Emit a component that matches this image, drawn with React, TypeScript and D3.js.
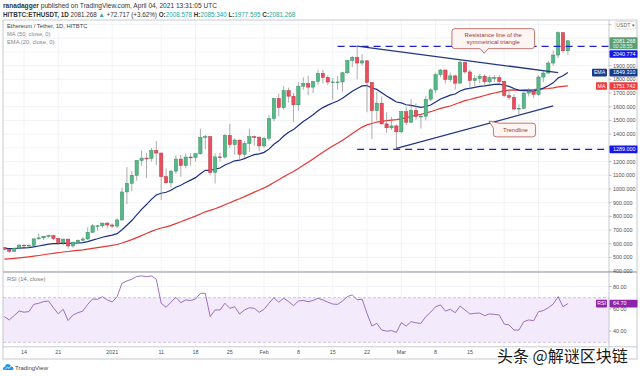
import React from 'react';
import * as d3 from 'd3';

const startDay = '2020-12-10';
const openP = [573,560,545,568,590,586,589,636,643,655, 659,638,609,634,584,612,626,635,684,731, 731,751,737,729,774,978,1041,1100,1208,1225, 1224,1281,1262,1090,1045,1130,1218,1171,1233,1230, 1257,1377,1382,1120,1234,1233,1391,1324,1357,1253, 1332,1382,1378,1314,1370,1514,1660,1594,1718,1677, 1614,1750,1770,1743,1785,1843,1814,1780,1781,1781, 1848,1937,1960,1919,1935,1777,1571,1626,1475,1446, 1460,1417,1564,1487,1573,1529,1531,1655,1723,1834, 1868,1799,1825,1772,1924,1854,1791,1806,1823,1782, 1812,1812,1785,1681,1669,1583,1589,1700,1713,1690, 1817,1846,1919,1977,2140,2008.578];
const highP = [576,561,570,597,592,595,637,676,657,667, 666,645,638,637,614,630,648,720,745,738, 754,757,749,786,1010,1160,1130,1210,1280,1260, 1300,1350,1265,1150,1140,1245,1250,1260,1260,1260, 1440,1395,1385,1260,1265,1400,1475,1370,1358,1350, 1440,1390,1383,1380,1540,1665,1695,1750,1740,1700, 1780,1815,1828,1790,1870,1870,1830,1810,1825,1855, 1940,1970,2042,1985,1940,1780,1710,1675,1560,1525, 1470,1570,1600,1655,1625,1545,1680,1735,1845,1875, 1870,1850,1835,1940,1930,1870,1830,1840,1835,1830, 1830,1830,1790,1725,1690,1620,1705,1735,1720,1830, 1860,1935,2010,2150,2145,2085.34];
const lowP = [555,532,543,565,577,580,584,630,628,645, 625,592,588,564,570,604,618,628,682,695, 715,712,716,715,768,890,985,1060,1170,1080, 1200,1175,920,1040,1010,1110,1090,1150,1170,1200, 1250,1290,1100,1040,1200,1220,1300,1250,1215,1225, 1270,1315,1275,1300,1350,1495,1530,1578,1630,1490, 1570,1725,1685,1700,1760,1770,1760,1650,1725,1710, 1840,1890,1800,1900,1560,1365,1500,1470,1410,1430, 1290,1405,1465,1480,1505,1440,1500,1640,1700,1815, 1770,1780,1725,1770,1840,1730,1740,1770,1760,1770, 1780,1760,1670,1650,1575,1545,1580,1675,1665,1680, 1780,1840,1900,1955,1995,1977.595];
const closeP = [560,545,568,590,586,589,636,643,655,659, 638,609,634,584,612,626,635,684,731,731, 751,737,729,774,978,1041,1100,1208,1225,1224, 1281,1262,1090,1045,1130,1218,1171,1233,1230,1257, 1377,1382,1120,1234,1233,1391,1324,1357,1253,1332, 1382,1378,1314,1370,1514,1660,1594,1718,1677,1614, 1750,1770,1743,1785,1843,1814,1780,1781,1781,1848, 1937,1960,1919,1935,1777,1571,1626,1475,1446,1460, 1417,1564,1487,1573,1529,1531,1655,1723,1834,1868, 1799,1825,1772,1924,1854,1791,1806,1823,1782,1812, 1812,1785,1681,1669,1583,1589,1700,1713,1690,1817, 1846,1919,1977,2140,2008.578,2081.268];
const ema20 = [567.2,565.1,565.4,567.7,569.4,571.3,577.5,583.7,590.5,597.0, 600.9,601.7,604.8,602.8,603.7,605.8,608.6,615.8,626.8,636.7, 647.6,656.1,663.0,673.6,702.6,734.8,769.6,811.4,850.8,886.3, 923.8,956.0,968.7,976.0,990.7,1012.3,1027.4,1047.0,1064.4,1082.7, 1110.7,1136.5,1134.9,1144.3,1152.7,1175.4,1189.5,1205.4,1209.9,1221.5, 1236.8,1250.2,1256.3,1267.1,1290.6,1325.8,1351.3,1386.2,1413.9,1433.0, 1463.2,1492.4,1516.3,1541.9,1570.6,1593.8,1611.5,1627.7,1642.3,1661.4, 1687.6,1713.5,1733.1,1752.3,1754.6,1737.1,1726.5,1702.6,1678.2,1657.4, 1634.5,1627.8,1614.4,1610.4,1602.7,1595.9,1601.5,1613.1,1634.1,1656.3, 1669.9,1684.7,1693.0,1715.0,1728.2,1734.2,1741.0,1748.8,1752.0,1757.7, 1762.9,1765.0,1757.0,1748.6,1732.8,1719.1,1717.3,1716.9,1714.3,1724.1, 1735.7,1753.1,1774.4,1809.2,1826.0,1849.31];
const ma50 = [487.9,490.5,493.7,497.3,500.9,504.8,509.4,514.5,519.9,525.4, 530.5,534.7,539.8,543.7,547.9,552.1,555.7,560.7,566.3,572.0, 578.0,583.5,588.9,594.9,605.5,617.3,630.1,644.7,659.6,674.7, 690.1,704.4,715.0,723.7,734.2,747.2,760.3,774.6,788.4,802.1, 817.3,833.2,843.6,856.0,869.2,885.1,899.6,914.9,928.9,944.1, 960.4,977.1,992.0,1007.6,1026.2,1047.6,1066.8,1088.3,1108.7,1127.8, 1150.1,1173.3,1195.5,1219.5,1244.1,1267.9,1290.8,1312.7,1333.7,1356.1, 1379.8,1404.3,1428.1,1451.3,1467.3,1477.9,1488.4,1493.7,1498.2,1502.9, 1505.6,1511.6,1519.6,1530.1,1538.1,1544.4,1554.0,1563.8,1575.9,1588.1, 1596.6,1605.4,1618.5,1632.3,1644.7,1652.7,1662.3,1671.6,1682.2,1691.8, 1700.4,1708.6,1715.9,1721.9,1723.3,1721.9,1724.0,1723.9,1724.2,1728.2, 1730.2,1733.1,1737.8,1744.9,1748.2,1751.742];
const rsi14 = [53,50,54,58,57,57.5,64,65,66.5,67, 61,55.5,59.6,49.5,54.5,56.5,58,64,68.8,68.5, 70.9,68,66.1,70.9,82.9,85,86.5,89,89.5,88.8, 89.5,86.5,65,61.4,66,70.3,65.5,68,67.5,68.8, 73.9,73.9,53,59,59,65,60.5,61.9,55.4,59, 61,60.5,56.9,59.6,65,70,65.9,69.5,66.5,62.8, 67,67.5,66.4,67.5,69.5,68,66,64.3,64,67, 71,72.4,68.2,68.6,56,44.6,47,41,40,40.5, 38.9,47.6,44.6,48.5,47.5,47,53,57,61.9,63.5, 58,59.6,56.5,62.5,59,55.4,56,56.2,53.9,55.4, 55,54.5,46.4,45.5,41,41,48.5,50,49.4,57.4, 58.5,61,64.3,70.9,61.9,64.7];

const priceTicks = [400,500,600,700,800,900,1000,1100,1200,1300,1400,1500,1600,1700,1800,1900,2000,2100,2200];
const priceLabelTicks = [400,500,600,700,800,900,1000,1100,1200,1300,1400,1500,1600,1700,1800,1900];
const rsiTicks = [40,60,80];
const gridDates = ['2020-12-14','2020-12-21','2021-01-01','2021-01-11','2021-01-18','2021-01-25','2021-02-01','2021-02-08','2021-02-15','2021-02-22','2021-03-01','2021-03-08','2021-03-15','2021-03-22','2021-03-29'];
const timeTickDates = ['2020-12-14','2020-12-21','2021-01-01','2021-01-11','2021-01-18','2021-01-25','2021-02-01','2021-02-08','2021-02-15','2021-02-22','2021-03-01','2021-03-08','2021-03-15'];
const timeTickLabels = ['14','21','2021','11','18','25','Feb','8','15','22','Mar','8','15'];

const resistanceLine = [{ d: '2021-02-20', v: 2042 }, { d: '2021-04-02', v: 1849 }];
const supportLine = [{ d: '2021-02-28', v: 1297 }, { d: '2021-04-01', v: 1606 }];
const hLevels = [{ d: '2021-02-16', v: 2040.774 }, { d: '2021-02-20', v: 1289 }];

const FONT = '"Liberation Sans", Arial, sans-serif';
const DAY = 864e5;
const parse = (s: string) => new Date(s + 'T00:00:00Z');

export default function App() {
  const W = 640, H = 376;
  const left = 3, right = 609, mainTop = 20, mainBot = 272, rsiBot = 346.8;
  const ref = parse('2020-12-14').getTime();
  const x = d3.scaleUtc()
    .domain([new Date(ref - 4.286 * DAY), new Date(ref + 119.39 * DAY)])
    .range([left, right]);
  const y = d3.scaleLinear().domain([394, 2233]).range([mainBot, mainTop]);
  const yr = d3.scaleLinear().domain([26, 93]).range([rsiBot, mainBot]);

  const start = parse(startDay);
  const days = d3.utcDay.range(start, d3.utcDay.offset(start, closeP.length));
  const bw = 3.3;
  const upFill = '#53b987', dnFill = '#eb4d5c';
  const upStroke = '#3d8c63', dnStroke = '#b73a46';

  const lineMain = d3.line<number>().x((_, i) => x(days[i])).y((v) => y(v));
  const lineRsi = d3.line<number>().x((_, i) => x(days[i])).y((v) => yr(v));

  const fmt3 = d3.format('.3f');
  const fmt2 = d3.format('.2f');

  const gridC = '#eef0f4';
  const frameC = '#b9bcc4';
  const axisText = '#4f4f4f';

  const priceBox = (cy: number, fill: string, label: string, tag?: string, tagW?: number) => (
    <g key={label + cy}>
      {tag && (
        <g>
          <rect x={right - 2 - (tagW || 12)} y={cy - 3.8} width={tagW || 12} height={7.6} fill={fill} rx={0.8} />
          <text x={right - 2 - (tagW || 12) / 2} y={cy + 1.9} fontSize={5.2} fill="#fff" textAnchor="middle" fontFamily={FONT}>{tag}</text>
        </g>
      )}
      <rect x={right + 0.5} y={cy - 3.8} width={28} height={7.6} fill={fill} rx={0.8} />
      <text x={right + 4} y={cy + 1.9} fontSize={5.4} fill="#fff" fontFamily={FONT}>{label}</text>
    </g>
  );

  const resPts = resistanceLine.map((p) => [x(parse(p.d)), y(p.v)]);
  const supPts = supportLine.map((p) => [x(parse(p.d)), y(p.v)]);

  const box1 = { x0: x(parse('2021-03-15')) - 18, x1: x(parse('2021-03-28')) + 1, y0: y(2250) + 11, y1: y(2250) + 31 };
  const tip1 = { x: x(parse('2021-03-22')) - 20, y: y(1990) };
  const box2 = { x0: x(parse('2021-03-20')) - 1, x1: x(parse('2021-03-28')) + 2, y0: y(1480), y1: y(1380) };
  const tip2 = { x: x(parse('2021-03-19')) - 0.5, y: y(1496) };

  const callout1 = () => {
    const { x0, x1, y0, y1 } = box1;
    const r = 3;
    const bx = tip1.x;
    return `M${x0 + r},${y0} H${x1 - r} Q${x1},${y0} ${x1},${y0 + r} V${y1 - r} Q${x1},${y1} ${x1 - r},${y1} H${bx + 4} L${bx},${tip1.y} L${bx - 4},${y1} H${x0 + r} Q${x0},${y1} ${x0},${y1 - r} V${y0 + r} Q${x0},${y0} ${x0 + r},${y0} Z`;
  };
  const callout2 = () => {
    const { x0, x1, y0, y1 } = box2;
    const r = 3;
    return `M${x0 + 6},${y0} H${x1 - r} Q${x1},${y0} ${x1},${y0 + r} V${y1 - r} Q${x1},${y1} ${x1 - r},${y1} H${x0 + r} Q${x0},${y1} ${x0},${y1 - r} V${y0 + 5} L${tip2.x},${tip2.y} L${x0 + 6},${y0} Z`;
  };

  return (
    <svg width={W} height={H} style={{ position: 'absolute', left: 0, top: 0, background: '#fff' }} fontFamily={FONT}>
      <defs>
        <clipPath id="mainClip"><rect x={left} y={mainTop} width={right - left} height={mainBot - mainTop} /></clipPath>
        <clipPath id="rsiClip"><rect x={left} y={mainBot} width={right - left} height={rsiBot - mainBot} /></clipPath>
      </defs>
      <rect width={W} height={H} fill="#fff" />

      {/* header */}
      <text x={3} y={8} fontSize={6.6} fill="#333">
        <tspan fontWeight="bold">ranadagger</tspan> published on TradingView.com, April 04, 2021 13:31:05 UTC
      </text>
      <text x={3} y={16.5} fontSize={6.3} fill="#333">
        <tspan fontWeight="bold">HITBTC:ETHUSDT, 1D</tspan>
        <tspan> 2081.268 </tspan>
        <tspan fill="#26a69a">▲</tspan>
        <tspan> +72.717 (+3.62%) </tspan>
        <tspan fontWeight="bold">O:</tspan><tspan fill="#26a69a">2008.578 </tspan>
        <tspan fontWeight="bold">H:</tspan><tspan fill="#26a69a">2085.340 </tspan>
        <tspan fontWeight="bold">L:</tspan><tspan fill="#26a69a">1977.595 </tspan>
        <tspan fontWeight="bold">C:</tspan><tspan fill="#26a69a">2081.268</tspan>
      </text>

      {/* grid */}
      <g stroke={gridC} strokeWidth={0.8}>
        {gridDates.map((d) => (
          <line key={d} x1={x(parse(d))} x2={x(parse(d))} y1={mainTop} y2={rsiBot} />
        ))}
        {priceTicks.map((t) => (
          <line key={t} x1={left} x2={right} y1={y(t)} y2={y(t)} />
        ))}
        {rsiTicks.map((t) => (
          <line key={'r' + t} x1={left} x2={right} y1={yr(t)} y2={yr(t)} />
        ))}
      </g>

      {/* legend */}
      <text x={7} y={28} fontSize={5.8} fill="#444">Ethereum / Tether, 1D, HITBTC</text>
      <text x={7} y={36} fontSize={5.8} fill="#888">MA (50, close, 0)</text>
      <text x={7} y={44} fontSize={5.8} fill="#888">EMA (20, close, 0)</text>

      {/* main pane */}
      <g clipPath="url(#mainClip)">
        <path d={lineMain(ma50) || ''} fill="none" stroke="#e53935" strokeWidth={1.2} />
        <path d={lineMain(ema20) || ''} fill="none" stroke="#1a2f85" strokeWidth={1.2} />
        {days.map((d, i) => {
          const up = closeP[i] >= openP[i];
          const cx = x(d);
          const top = y(Math.max(openP[i], closeP[i]));
          const bot = y(Math.min(openP[i], closeP[i]));
          return (
            <g key={i}>
              <line x1={cx} x2={cx} y1={y(highP[i])} y2={y(lowP[i])} stroke="#8a8a8a" strokeWidth={0.7} />
              <rect x={cx - bw / 2} y={top} width={bw} height={Math.max(0.8, bot - top)}
                fill={up ? upFill : dnFill} stroke={up ? upStroke : dnStroke} strokeWidth={0.5} />
            </g>
          );
        })}
        {hLevels.map((h) => (
          <line key={h.v} x1={x(parse(h.d))} x2={right} y1={y(h.v)} y2={y(h.v)} stroke="#1f1fd6" strokeWidth={1.4} strokeDasharray="7,5" />
        ))}
        <line x1={resPts[0][0]} y1={resPts[0][1]} x2={resPts[1][0]} y2={resPts[1][1]} stroke="#22377f" strokeWidth={1.3} />
        <line x1={supPts[0][0]} y1={supPts[0][1]} x2={supPts[1][0]} y2={supPts[1][1]} stroke="#22377f" strokeWidth={1.3} />

        <path d={callout1()} fill="#fdf5f4" stroke="#b3544d" strokeWidth={0.8} />
        <text x={(box1.x0 + box1.x1) / 2} y={box1.y0 + 8} fontSize={6} fill="#9e3b35" textAnchor="middle">Resistance line of the</text>
        <text x={(box1.x0 + box1.x1) / 2} y={box1.y0 + 15.5} fontSize={6} fill="#9e3b35" textAnchor="middle">symmetrical triangle</text>
        <path d={callout2()} fill="#fdf5f4" stroke="#b3544d" strokeWidth={0.8} />
        <text x={(box2.x0 + box2.x1) / 2 + 1} y={(box2.y0 + box2.y1) / 2 + 2.1} fontSize={6} fill="#9e3b35" textAnchor="middle">Trendline</text>
      </g>

      {/* rsi pane */}
      <rect x={left} y={yr(70)} width={right - left} height={yr(30) - yr(70)} fill="#f3eafc" />
      <line x1={left} x2={right} y1={yr(70)} y2={yr(70)} stroke="#c9b3e3" strokeWidth={0.8} strokeDasharray="3,2" />
      <line x1={left} x2={right} y1={yr(30)} y2={yr(30)} stroke="#c9b3e3" strokeWidth={0.8} strokeDasharray="3,2" />
      <g clipPath="url(#rsiClip)">
        <path d={lineRsi(rsi14) || ''} fill="none" stroke="#9262b8" strokeWidth={0.9} />
      </g>
      <text x={7} y={281} fontSize={5.8} fill="#777">RSI (14, close)</text>

      {/* frames */}
      <rect x={left} y={mainTop} width={634} height={359 - mainTop} fill="none" stroke={frameC} strokeWidth={0.8} />
      <line x1={right} x2={right} y1={mainTop} y2={359} stroke={frameC} strokeWidth={0.8} />
      <line x1={left} x2={637} y1={mainBot} y2={mainBot} stroke="#b0b3ba" strokeWidth={1.6} />
      <line x1={left} x2={637} y1={rsiBot} y2={rsiBot} stroke={frameC} strokeWidth={0.8} />

      {/* price axis */}
      <g>
        {priceTicks.map((t) => (
          <line key={t} x1={right} x2={right + 2.5} y1={y(t)} y2={y(t)} stroke="#999" strokeWidth={0.6} />
        ))}
        {priceLabelTicks.map((t) => (
          <text key={'pl' + t} x={right + 4} y={y(t) + 2} fontSize={5.4} fill={axisText}>{fmt3(t)}</text>
        ))}
        {rsiTicks.map((t) => (
          <g key={'rt' + t}>
            <line x1={right} x2={right + 2.5} y1={yr(t)} y2={yr(t)} stroke="#999" strokeWidth={0.6} />
            <text x={right + 4} y={yr(t) + 2} fontSize={5.4} fill={axisText}>{fmt2(t)}</text>
          </g>
        ))}
      </g>

      {/* time axis */}
      {timeTickDates.map((d, i) => (
        <text key={d} x={x(parse(d))} y={354} fontSize={5.4} fill={axisText} textAnchor="middle">{timeTickLabels[i]}</text>
      ))}

      {/* price labels */}
      <rect x={615} y={21.5} width={21} height={7.5} rx={2} fill="#fff" stroke="#ccc" strokeWidth={0.6} />
      <text x={625.5} y={27.2} fontSize={5.2} fill="#666" textAnchor="middle">USDT ▾</text>
      <rect x={right + 0.5} y={y(closeP[closeP.length - 1]) - 3.5} width={28} height={12} fill="#5b9f72" rx={0.8} />
      <text x={right + 4} y={y(closeP[closeP.length - 1]) + 2} fontSize={5.4} fill="#fff">{fmt3(closeP[closeP.length - 1])}</text>
      <text x={right + 4} y={y(closeP[closeP.length - 1]) + 7.3} fontSize={5} fill="#dff0e4">00:28:55</text>
      {priceBox(y(hLevels[0].v) + 7.6, '#1616ea', fmt3(hLevels[0].v))}
      {priceBox(y(ema20[ema20.length - 1]), '#1c3a8c', fmt3(ema20[ema20.length - 1]), 'EMA', 15)}
      {priceBox(y(ma50[ma50.length - 1]), '#ef3b3b', fmt3(ma50[ma50.length - 1]), 'MA', 11)}
      {priceBox(y(hLevels[1].v), '#1616ea', fmt3(hLevels[1].v))}
      {priceBox(yr(rsi14[rsi14.length - 1]), '#8e24aa', fmt2(rsi14[rsi14.length - 1]), 'RSI', 11)}

      {/* logo */}
      <g transform="translate(3,362)">
        <path d="M1,8 Q0,8 0,6.5 Q0,4.8 2,4.8 Q2.4,2 5,2 Q7.6,2 8.2,4.6 Q10.5,4.6 10.5,6.4 Q10.5,8 9,8 Z" fill="#2196f3" />
        <path d="M2.5,7.2 L4.5,5 L6,6.4 L8.2,3.8" fill="none" stroke="#fff" strokeWidth={0.8} />
      </g>
      <text x={15} y={370} fontSize={6} fill="#444">TradingView</text>

      {/* watermark */}
      <text x={497} y={362} fontSize={16} fontFamily={'"Noto Sans CJK SC", sans-serif'} fill="#1a1a1a" stroke="#fff" strokeWidth={2.2} paintOrder="stroke">头条 @解谜区块链</text>
    </svg>
  );
}
